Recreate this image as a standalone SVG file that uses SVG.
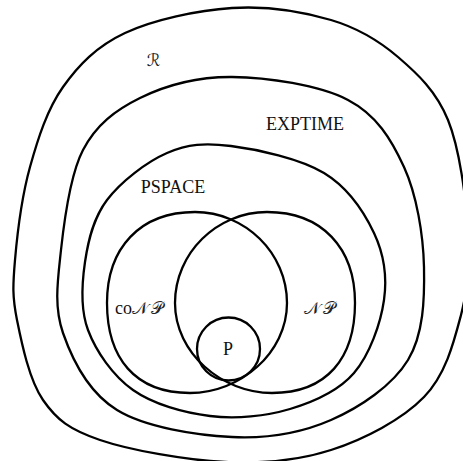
<svg xmlns="http://www.w3.org/2000/svg" width="463" height="461" viewBox="0 0 463 461">
<style>
.set{fill:none;stroke:#000;stroke-width:2.3}
.lbl{font-family:"Liberation Serif","Times New Roman",serif;font-size:18px;fill:#111}
.cal{font-family:"DejaVu Serif","DejaVu Sans",serif;font-style:normal;font-size:17px;fill:#222;letter-spacing:3px}
</style>
<rect width="463" height="461" fill="#fff"/>
<g id="connectors"></g>
<g id="R">
<path class="set" d="M 232,8 C 266.3,5.8 303.3,11.8 331,20 S 378.5,40.3 398,57 S 436.3,91.2 448,120 S 465.8,197.5 468,230 S 468.3,287.2 461,315 S 445.7,374.5 424,397 S 364.2,439.2 331,450 S 263.5,463.7 225,462 S 130.3,450.3 100,440 S 56.8,420 43,400 S 21.7,343.3 17,320 S 12.8,285.5 15,260 S 22,195.8 30,167 S 47.2,109.3 63,87 S 96.8,46.2 125,33 S 197.7,10.2 232,8 Z"/>
<text class="cal" x="155" y="66" text-anchor="middle" font-size="20" letter-spacing="0">ℛ</text>
</g>
<g id="EXPTIME">
<path class="set" d="M 232,77 C 266.7,77.3 319.3,85 348,100 S 391.3,139.2 404,167 S 423.3,234.8 424,267 S 423.5,334.5 408,360 S 360.3,407.2 331,420 S 267.7,438.7 232,437 S 145.2,427.3 117,410 S 72.3,359.7 63,333 S 57.7,280.5 61,250 S 69.8,175.3 83,150 S 115.2,110.2 140,98 S 197.3,76.7 232,77 Z"/>
<text class="lbl" x="305" y="130" text-anchor="middle">EXPTIME</text>
</g>
<g id="PSPACE">
<path class="set" d="M 231,146 C 257.2,149.3 300.2,158.5 324,173 S 364,211.8 374,233 S 387.3,276.7 384,300 S 369.7,354.8 354,373 S 314,401.8 290,409 S 236.2,419.2 210,416 S 153.3,404.3 133,390 S 96,351.3 88,330 S 81.8,283.7 85,262 S 93.3,218.2 107,200 S 146.3,162 167,153 S 204.8,142.7 231,146 Z"/>
<text class="lbl" x="173" y="193" text-anchor="middle">PSPACE</text>
</g>
<g id="coNP">
<path class="set" d="M 195,212 C 245,212 287,253 287,303 C 287,353 240,393 190,393 C 135,393 107,358 107,303 C 107,248 140,212 195,212 Z"/>
<text class="lbl" x="115" y="314">co<tspan class="cal">𝒩𝒫</tspan></text>
</g>
<g id="NP">
<path class="set" d="M 267,212 C 217,212 175,253 175,303 C 175,353 222,393 272,393 C 327,393 355,358 355,303 C 355,248 322,212 267,212 Z"/>
<text class="cal" x="304" y="314">𝒩𝒫</text>
</g>
<g id="P">
<circle class="set" cx="228.5" cy="349" r="31.5"/>
<text class="lbl" x="228" y="355" text-anchor="middle">P</text>
</g>
</svg>
